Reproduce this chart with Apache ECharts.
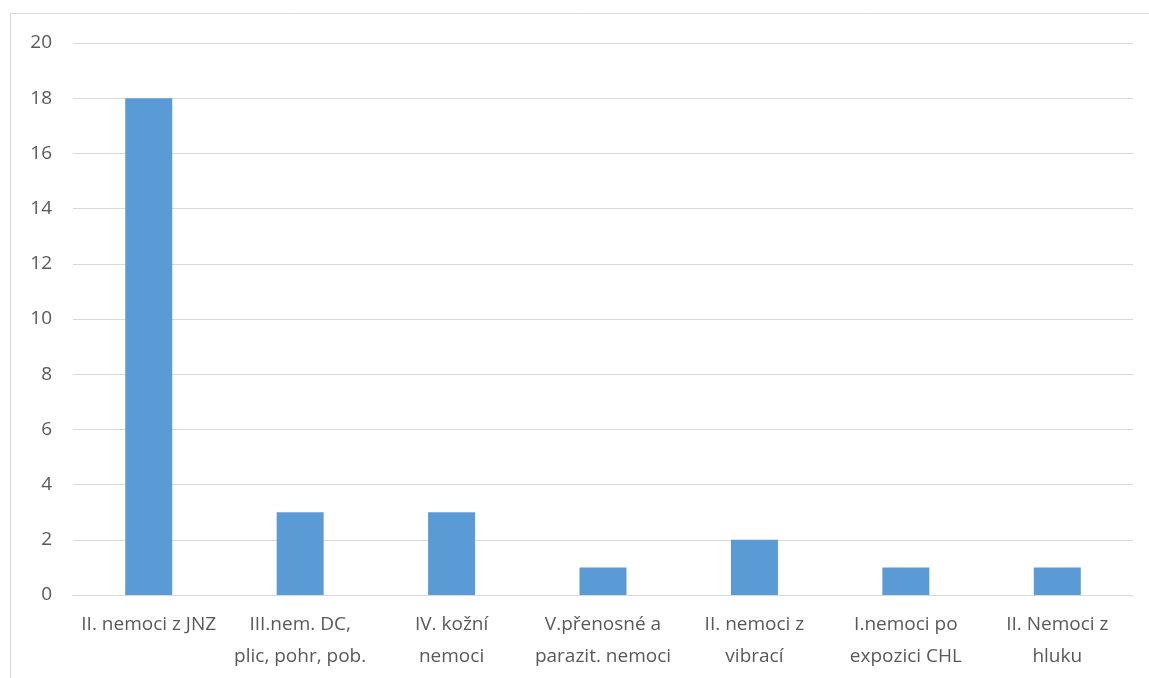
<!DOCTYPE html>
<html>
<head>
<meta charset="utf-8">
<script src="https://cdn.jsdelivr.net/npm/echarts@6/dist/echarts.min.js"></script>
<style>
html,body{margin:0;padding:0;background:#fff;}
#c{width:1149px;height:678px;}
</style>
</head>
<body>
<div id="c"></div>
<script>
const categories = [
  "II. nemoci z JNZ",
  "III.nem. DC,\nplic, pohr, pob.",
  "IV. kožní\nnemoci",
  "V.přenosné a\nparazit. nemoci",
  "II. nemoci z\nvibrací",
  "I.nemoci po\nexpozici CHL",
  "II. Nemoci z\nhluku"
];
const values = [18, 3, 3, 1, 2, 1, 1];
const yMin = 0, yMax = 20, yStep = 2;

const chart = echarts.init(document.getElementById('c'));
chart.setOption({
  animation: false,
  backgroundColor: '#ffffff',
  graphic: [{
    type: 'rect',
    shape: { x: 10.5, y: 13.5, width: 1300, height: 800 },
    style: { fill: 'none', stroke: '#d9d9d9', lineWidth: 1 },
    silent: true
  }],
  grid: { left: 73, right: 16, top: 43, bottom: 83, containLabel: false },
  xAxis: {
    type: 'category',
    data: categories,
    axisLine: { show: true, lineStyle: { color: '#d9d9d9', width: 1 } },
    axisTick: { show: false },
    axisLabel: {
      color: '#595959',
      fontFamily: 'Open Sans, Noto Sans, sans-serif',
      fontSize: 19,
      lineHeight: 32,
      margin: 14,
      interval: 0
    }
  },
  yAxis: {
    type: 'value',
    min: yMin, max: yMax, interval: yStep,
    axisLine: { show: false },
    axisTick: { show: false },
    splitLine: { lineStyle: { color: '#d9d9d9', width: 1 } },
    axisLabel: {
      color: '#595959',
      fontFamily: 'Open Sans, Noto Sans, sans-serif',
      fontSize: 19,
      margin: 21
    }
  },
  series: [{
    type: 'bar',
    data: values,
    barWidth: 47,
    itemStyle: { color: '#5b9bd5' }
  }]
});
</script>
</body>
</html>
